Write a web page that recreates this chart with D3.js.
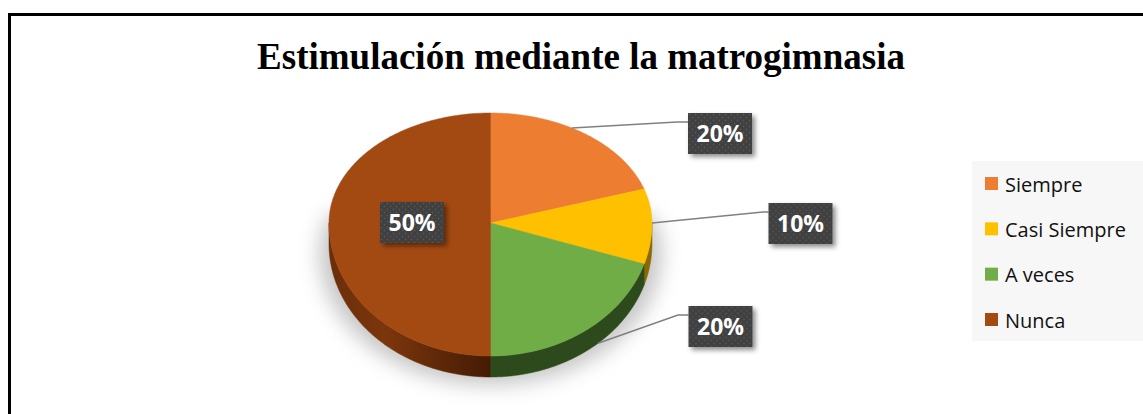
<!DOCTYPE html>
<html>
<head>
<meta charset="utf-8">
<script src="https://cdn.jsdelivr.net/npm/d3@7"></script>
<style>
  html, body { margin: 0; padding: 0; background: #fff; }
  svg { display: block; }
</style>
</head>
<body>
<svg id="chart" width="1143" height="414"></svg>
<script>
// ---- data ----
const categories = ["Siempre", "Casi Siempre", "A veces", "Nunca"];
const values = [20, 10, 20, 50];
const valueLabels = ["20%", "10%", "20%", "50%"];
const colors = ["#ED7D31", "#FFC000", "#70AD47", "#A34A12"];
const sideColors = ["#8a4418", "#8a6a00", "#2d4a1d", "url(#brownSide)"];
const titleText = "Estimulación mediante la matrogimnasia";

// ---- layout ----
const W = 1143, H = 414;
const svg = d3.select("#chart");
const defs = svg.append("defs");

const bg = defs.append("linearGradient").attr("id", "brownSide").attr("x1", "0").attr("x2", "1").attr("y1", "0").attr("y2", "0");
bg.append("stop").attr("offset", "0%").attr("stop-color", "#6a2e0a");
bg.append("stop").attr("offset", "35%").attr("stop-color", "#7c360c");
bg.append("stop").attr("offset", "100%").attr("stop-color", "#441b04");

const blur = defs.append("filter").attr("id", "pieShadow").attr("x", "-30%").attr("y", "-30%").attr("width", "160%").attr("height", "160%");
blur.append("feGaussianBlur").attr("stdDeviation", 10);

const ds = defs.append("filter").attr("id", "boxShadow").attr("x", "-30%").attr("y", "-30%").attr("width", "160%").attr("height", "160%");
ds.append("feDropShadow").attr("dx", 3).attr("dy", 3).attr("stdDeviation", 2.5)
  .attr("flood-color", "#000").attr("flood-opacity", 0.45);

const pat = defs.append("pattern").attr("id", "dots").attr("patternUnits", "userSpaceOnUse")
  .attr("width", 6).attr("height", 6);
pat.append("rect").attr("width", 6).attr("height", 6).attr("fill", "#3f3f3f");
pat.append("circle").attr("cx", 1.5).attr("cy", 1.5).attr("r", 0.9).attr("fill", "#565656");
pat.append("circle").attr("cx", 4.5).attr("cy", 4.5).attr("r", 0.9).attr("fill", "#565656");

svg.append("rect").attr("width", W).attr("height", H).attr("fill", "#fff");
svg.append("rect").attr("x", 9.5).attr("y", 14.5).attr("width", W + 20).attr("height", H + 20)
  .attr("fill", "none").attr("stroke", "#000").attr("stroke-width", 3);

svg.append("text").attr("x", 581).attr("y", 69).attr("text-anchor", "middle")
  .attr("font-family", "'Liberation Serif', 'Times New Roman', serif").attr("font-weight", "bold")
  .attr("font-size", 37).attr("fill", "#000").text(titleText);

const cx = 490.5, cy = 223, rx = 161.5, ryTop = 110, ryBot = 133, depth = 21;
function P(theta, dy) {
  const c = Math.cos(theta);
  return [cx + rx * Math.sin(theta), cy - (c > 0 ? ryTop : ryBot) * c + (dy || 0)];
}
function arcPts(a0, a1, dy) {
  const n = Math.max(2, Math.ceil((a1 - a0) / (Math.PI / 180)));
  return d3.range(n + 1).map(i => P(a0 + (a1 - a0) * i / n, dy));
}

const pie = d3.pie().sort(null).value(d => d)(values);
const line = d3.line();

// soft shadow under the pie
const shadowPts = arcPts(Math.PI / 2 - 0.35, 3 * Math.PI / 2 + 0.35, depth + 6)
  .map(p => [cx + (p[0] - cx) * 1.06, p[1] + 2]);
svg.append("path").attr("d", line(shadowPts) + "Z").attr("fill", "#a0a0a0").attr("opacity", 0.6)
  .attr("filter", "url(#pieShadow)");

const gPie = svg.append("g");
pie.forEach((s, i) => {
  const a0 = Math.max(s.startAngle, Math.PI / 2), a1 = Math.min(s.endAngle, 3 * Math.PI / 2);
  if (a1 <= a0) return;
  const top = arcPts(a0, a1, 0), bot = arcPts(a0, a1, depth).reverse();
  gPie.append("path").attr("d", line(top.concat(bot)) + "Z").attr("fill", sideColors[i])
    .attr("stroke", sideColors[i]).attr("stroke-width", 0.5);
});
pie.forEach((s, i) => {
  const pts = [[cx, cy]].concat(arcPts(s.startAngle, s.endAngle, 0));
  gPie.append("path").attr("d", line(pts) + "Z").attr("fill", colors[i])
    .attr("stroke", colors[i]).attr("stroke-width", 0.5);
});

const boxW = 64, boxH = 41;
const labelPos = [
  { box: [720, 133.5], start: P(pie[0].startAngle + (pie[0].endAngle - pie[0].startAngle) * 0.42, 0), elbow: [677, 122] },
  { box: [800.5, 223.5], start: P((pie[1].startAngle + pie[1].endAngle) / 2, 0), elbow: [763, 212] },
  { box: [720.5, 326.5], start: P(pie[2].startAngle + (pie[2].endAngle - pie[2].startAngle) * 0.42, depth), elbow: [678, 315] },
  { box: [412, 222.5], start: null, elbow: null }
];
const gLab = svg.append("g");
labelPos.forEach(lp => {
  if (lp.start) {
    const end = [lp.box[0] - boxW / 2, lp.elbow[1]];
    gLab.append("path").attr("d", line([lp.start, lp.elbow, end])).attr("fill", "none")
      .attr("stroke", "#808080").attr("stroke-width", 1.6);
  }
});
labelPos.forEach((lp, i) => {
  const g = gLab.append("g").attr("transform", `translate(${lp.box[0] - boxW / 2},${lp.box[1] - boxH / 2})`);
  g.append("rect").attr("width", boxW).attr("height", boxH).attr("fill", "url(#dots)").attr("filter", "url(#boxShadow)");
  g.append("text").attr("x", boxW / 2).attr("y", boxH / 2 + 8.5).attr("text-anchor", "middle")
    .attr("font-family", "'Open Sans', 'Noto Sans', sans-serif").attr("font-weight", "bold")
    .attr("font-size", 23).attr("fill", "#fff").text(valueLabels[i]);
});

const legY = d3.scalePoint().domain(categories).range([184, 320]);
svg.append("rect").attr("x", 972).attr("y", 161).attr("width", 200).attr("height", 180).attr("fill", "#f7f7f7");
const lg = svg.append("g").selectAll("g").data(categories).join("g")
  .attr("transform", d => `translate(985,${legY(d)})`);
lg.append("rect").attr("x", 0).attr("y", -7).attr("width", 13).attr("height", 13)
  .attr("fill", (d, i) => colors[i]);
lg.append("text").attr("x", 20).attr("y", 7.5).attr("font-family", "'Open Sans', 'Noto Sans', sans-serif")
  .attr("font-size", 20).attr("fill", "#111").text(d => d);
</script>
</body>
</html>
